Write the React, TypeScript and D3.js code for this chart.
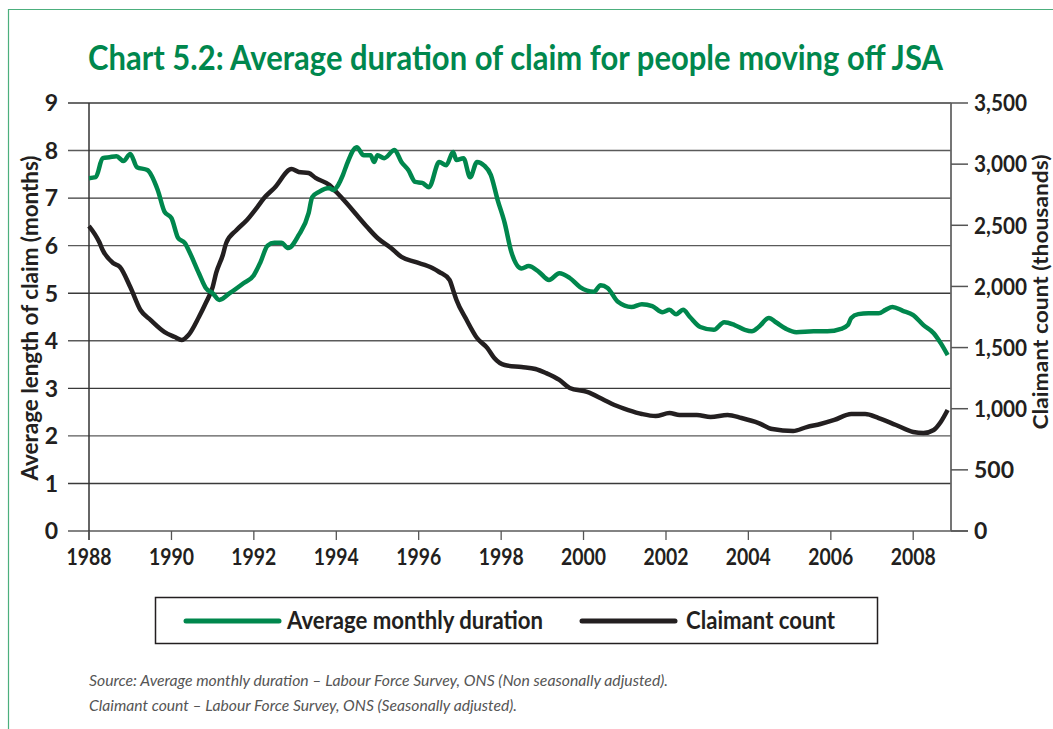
import React, { useEffect, useRef } from 'react';
import * as d3 from 'd3';

// Average monthly duration of claim (months)
const durationDates = [
  '1988-01', '1988-03', '1988-05', '1988-07', '1988-09', '1988-11', '1989-01', '1989-03', '1989-06', '1989-09',
  '1989-11', '1990-01', '1990-03', '1990-05', '1990-06', '1990-09', '1990-11', '1991-01', '1991-03', '1991-06',
  '1991-10', '1992-01', '1992-03', '1992-05', '1992-07', '1992-09', '1992-11', '1993-02', '1993-05', '1993-06',
  '1993-08', '1993-11', '1993-12', '1994-03', '1994-04', '1994-07', '1994-09', '1994-11', '1994-12', '1995-01',
  '1995-03', '1995-06', '1995-08', '1995-10', '1995-12', '1996-02', '1996-04', '1996-07', '1996-09', '1996-11',
  '1996-12', '1997-02', '1997-04', '1997-06', '1997-08', '1997-10', '1997-12', '1998-02', '1998-04', '1998-07',
  '1998-09', '1998-12', '1999-03', '1999-06', '1999-09', '1999-12', '2000-04', '2000-06', '2000-08', '2000-11',
  '2001-03', '2001-06', '2001-09', '2001-12', '2002-02', '2002-04', '2002-06', '2002-08', '2002-11', '2003-03',
  '2003-06', '2003-09', '2003-12', '2004-02', '2004-04', '2004-07', '2004-09', '2004-12', '2005-03', '2005-08',
  '2005-12', '2006-04', '2006-06', '2006-07', '2006-09', '2006-12', '2007-03', '2007-05', '2007-07', '2007-10',
  '2008-01', '2008-04', '2008-07', '2008-09', '2008-11',
];
const durationValues = [
  7.42, 7.44, 7.84, 7.86, 7.88, 7.78, 7.93, 7.65, 7.59, 7.17,
  6.71, 6.58, 6.16, 6.05, 5.91, 5.42, 5.11, 5.0, 4.86, 5.0,
  5.21, 5.38, 5.66, 6.0, 6.06, 6.06, 5.95, 6.22, 6.69, 7.02,
  7.13, 7.21, 7.17, 7.49, 7.69, 8.07, 7.9, 7.9, 7.76, 7.9,
  7.84, 8.01, 7.76, 7.59, 7.34, 7.32, 7.23, 7.76, 7.69, 7.97,
  7.8, 7.84, 7.44, 7.76, 7.69, 7.49, 6.96, 6.48, 5.87, 5.52,
  5.57, 5.45, 5.28, 5.42, 5.32, 5.13, 5.03, 5.17, 5.11, 4.82,
  4.71, 4.77, 4.73, 4.6, 4.65, 4.56, 4.65, 4.5, 4.29, 4.23,
  4.39, 4.33, 4.23, 4.2, 4.29, 4.48, 4.39, 4.25, 4.18, 4.2,
  4.2, 4.25, 4.33, 4.48, 4.56, 4.58, 4.58, 4.65, 4.71, 4.63,
  4.54, 4.33, 4.16, 3.95, 3.7,
];

// Claimant count (thousands)
const claimantDates = [
  '1988-01', '1988-04', '1988-05', '1988-08', '1988-10', '1989-01', '1989-04', '1989-07', '1989-11', '1990-02',
  '1990-04', '1990-06', '1990-09', '1990-11', '1991-01', '1991-02', '1991-04', '1991-05', '1991-08', '1991-11',
  '1992-02', '1992-04', '1992-07', '1992-12', '1993-02', '1993-05', '1993-07', '1993-11', '1994-01', '1994-04',
  '1994-07', '1994-10', '1995-01', '1995-05', '1995-08', '1995-12', '1996-05', '1996-07', '1996-10', '1996-11',
  '1996-12', '1997-03', '1997-06', '1997-09', '1997-11', '1998-02', '1998-07', '1998-11', '1999-02', '1999-06',
  '1999-09', '2000-02', '2000-07', '2000-10', '2001-02', '2001-06', '2001-10', '2002-02', '2002-05', '2002-10',
  '2003-02', '2003-07', '2003-11', '2004-04', '2004-08', '2005-02', '2005-06', '2005-10', '2006-02', '2006-07',
  '2006-11', '2007-03', '2007-08', '2008-01', '2008-04', '2008-07', '2008-09', '2008-11',
];
const claimantValues = [
  2494, 2363, 2298, 2192, 2159, 1995, 1807, 1725, 1627, 1586,
  1562, 1603, 1750, 1864, 1995, 2110, 2257, 2355, 2461, 2543,
  2649, 2723, 2805, 2960, 2936, 2927, 2887, 2829, 2772, 2682,
  2584, 2486, 2396, 2314, 2241, 2200, 2151, 2118, 2053, 1971,
  1889, 1725, 1578, 1496, 1415, 1357, 1341, 1325, 1292, 1235,
  1169, 1137, 1071, 1030, 989, 957, 940, 965, 949, 949,
  932, 949, 924, 883, 834, 818, 850, 875, 908, 957,
  957, 924, 867, 810, 801, 826, 891, 989,
];

const yearTicks = [1988, 1990, 1992, 1994, 1996, 1998, 2000, 2002, 2004, 2006, 2008];
const leftTicks = [0, 1, 2, 3, 4, 5, 6, 7, 8, 9];
const rightTicks = [0, 500, 1000, 1500, 2000, 2500, 3000, 3500];

const seriesNames = ['Average monthly duration', 'Claimant count'];
const titleText = 'Chart 5.2: Average duration of claim for people moving off JSA';
const leftTitle = 'Average length of claim (months)';
const rightTitle = 'Claimant count (thousands)';
const sourceLines = [
  'Source: Average monthly duration \u2013 Labour Force Survey, ONS (Non seasonally adjusted).',
  'Claimant count \u2013 Labour Force Survey, ONS (Seasonally adjusted).',
];

const GREEN = '#00874d';
const BLACK = '#231f20';
const FONT = "Lato, 'Liberation Sans', sans-serif";

const W = 1053;
const H = 729;

const App = () => {
  const svgRef = useRef<SVGSVGElement | null>(null);

  useEffect(() => {
    const svg = d3.select(svgRef.current);
    svg.selectAll('*').remove();

    const parse = d3.timeParse('%Y-%m');
    const left = 89;
    const right = 951;
    const top = 103;
    const bottom = 531;

    const x = d3.scaleTime()
      .domain([new Date(1988, 0, 1), new Date(2008, 11, 1)])
      .range([left, right]);
    const yL = d3.scaleLinear().domain([0, 9]).range([bottom, top]);
    const yR = d3.scaleLinear().domain([0, 3500]).range([bottom, top]);

    // frame
    svg.append('path')
      .attr('d', `M8.5,${H} V9.5 H${W}`)
      .attr('fill', 'none')
      .attr('stroke', '#4caf7d')
      .attr('stroke-width', 1.2);

    // title
    svg.append('text')
      .attr('x', 88)
      .attr('y', 70)
      .attr('fill', GREEN)
      .attr('textLength', 855)
      .attr('lengthAdjust', 'spacingAndGlyphs')
      .style('font-family', FONT)
      .style('font-weight', 'bold')
      .style('font-size', '34px')
      .text(titleText);

    // grid lines with left ticks
    svg.append('g').selectAll('line')
      .data(leftTicks)
      .enter()
      .append('line')
      .attr('x1', 68)
      .attr('x2', d => (d === 0 ? 968 : right))
      .attr('y1', d => yL(d))
      .attr('y2', d => yL(d))
      .attr('stroke', (d, i) => (i % 2 === 0 ? '#5a5a5a' : '#3a3a3a'))
      .attr('stroke-width', 1.4);

    // axis lines
    svg.append('line')
      .attr('x1', left).attr('x2', left)
      .attr('y1', top).attr('y2', bottom + 9)
      .attr('stroke', '#333').attr('stroke-width', 1.5);
    svg.append('line')
      .attr('x1', right).attr('x2', right)
      .attr('y1', top).attr('y2', bottom)
      .attr('stroke', '#666').attr('stroke-width', 1.8);

    // right ticks
    svg.append('g').selectAll('line')
      .data(rightTicks)
      .enter()
      .append('line')
      .attr('x1', right)
      .attr('x2', 968)
      .attr('y1', d => yR(d))
      .attr('y2', d => yR(d))
      .attr('stroke', '#555')
      .attr('stroke-width', 1.5);

    // x ticks
    svg.append('g').selectAll('line')
      .data(yearTicks)
      .enter()
      .append('line')
      .attr('x1', d => x(new Date(d, 0, 1)))
      .attr('x2', d => x(new Date(d, 0, 1)))
      .attr('y1', bottom)
      .attr('y2', bottom + 9)
      .attr('stroke', '#555')
      .attr('stroke-width', 1.3);

    const labelStyle = (sel: any, size: number) => sel
      .style('font-family', FONT)
      .style('font-weight', 'bold')
      .style('font-size', `${size}px`)
      .attr('fill', BLACK);

    // left tick labels
    labelStyle(svg.append('g').selectAll('text')
      .data(leftTicks)
      .enter()
      .append('text')
      .attr('x', 58)
      .attr('y', d => yL(d))
      .attr('dy', '0.36em')
      .attr('text-anchor', 'end')
      .text(d => d), 23);

    // right tick labels
    labelStyle(svg.append('g').selectAll('text')
      .data(rightTicks)
      .enter()
      .append('text')
      .attr('x', 974)
      .attr('y', d => yR(d))
      .attr('dy', '0.36em')
      .attr('textLength', d => (d >= 1000 ? 53 : null))
      .attr('lengthAdjust', 'spacingAndGlyphs')
      .text(d => d3.format(',')(d)), 23);

    // x labels
    labelStyle(svg.append('g').selectAll('text')
      .data(yearTicks)
      .enter()
      .append('text')
      .attr('x', d => x(new Date(d, 0, 1)))
      .attr('y', 565)
      .attr('text-anchor', 'middle')
      .attr('textLength', 45)
      .attr('lengthAdjust', 'spacingAndGlyphs')
      .text(d => d), 23);

    // axis titles
    labelStyle(svg.append('text')
      .attr('transform', 'translate(38,318) rotate(-90)')
      .attr('text-anchor', 'middle')
      .attr('textLength', 325)
      .attr('lengthAdjust', 'spacingAndGlyphs')
      .text(leftTitle), 22);
    labelStyle(svg.append('text')
      .attr('transform', 'translate(1048,292) rotate(-90)')
      .attr('text-anchor', 'middle')
      .attr('textLength', 275)
      .attr('lengthAdjust', 'spacingAndGlyphs')
      .text(rightTitle), 21);

    // lines
    const durData = durationDates.map((d, i) => ({ date: parse(d) as Date, value: durationValues[i] }));
    const clmData = claimantDates.map((d, i) => ({ date: parse(d) as Date, value: claimantValues[i] }));

    const durLine = d3.line<{ date: Date; value: number }>()
      .x(d => x(d.date))
      .y(d => yL(d.value))
      .curve(d3.curveMonotoneX);
    const clmLine = d3.line<{ date: Date; value: number }>()
      .x(d => x(d.date))
      .y(d => yR(d.value))
      .curve(d3.curveMonotoneX);

    svg.append('path')
      .datum(clmData)
      .attr('d', clmLine)
      .attr('fill', 'none')
      .attr('stroke', BLACK)
      .attr('stroke-width', 4.5)
      .attr('stroke-linejoin', 'round');
    svg.append('path')
      .datum(durData)
      .attr('d', durLine)
      .attr('fill', 'none')
      .attr('stroke', GREEN)
      .attr('stroke-width', 4.5)
      .attr('stroke-linejoin', 'round');

    // legend
    const lg = svg.append('g');
    lg.append('rect')
      .attr('x', 155.5).attr('y', 597.5)
      .attr('width', 722).attr('height', 46)
      .attr('fill', '#fff')
      .attr('stroke', BLACK)
      .attr('stroke-width', 1.5);
    const legendItems = [
      { name: seriesNames[0], color: GREEN, x1: 186, x2: 279, tx: 287, w: 256 },
      { name: seriesNames[1], color: BLACK, x1: 582, x2: 675, tx: 686, w: 149 },
    ];
    legendItems.forEach(it => {
      lg.append('line')
        .attr('x1', it.x1).attr('x2', it.x2)
        .attr('y1', 621).attr('y2', 621)
        .attr('stroke', it.color)
        .attr('stroke-width', 5)
        .attr('stroke-linecap', 'round');
      labelStyle(lg.append('text')
        .attr('x', it.tx).attr('y', 629)
        .attr('textLength', it.w)
        .attr('lengthAdjust', 'spacingAndGlyphs')
        .text(it.name), 24);
    });

    // source
    const srcWidths = [579, 428];
    svg.append('g').selectAll('text')
      .data(sourceLines)
      .enter()
      .append('text')
      .attr('x', 89)
      .attr('y', (d, i) => 686 + i * 25)
      .attr('fill', '#555')
      .attr('textLength', (d, i) => srcWidths[i])
      .attr('lengthAdjust', 'spacingAndGlyphs')
      .style('font-family', FONT)
      .style('font-style', 'italic')
      .style('font-size', '15px')
      .text(d => d);
  }, []);

  return (
    <svg
      ref={svgRef}
      width={W}
      height={H}
      viewBox={`0 0 ${W} ${H}`}
      style={{ position: 'absolute', left: 0, top: 0, background: '#fff' }}
    />
  );
};

export default App;
